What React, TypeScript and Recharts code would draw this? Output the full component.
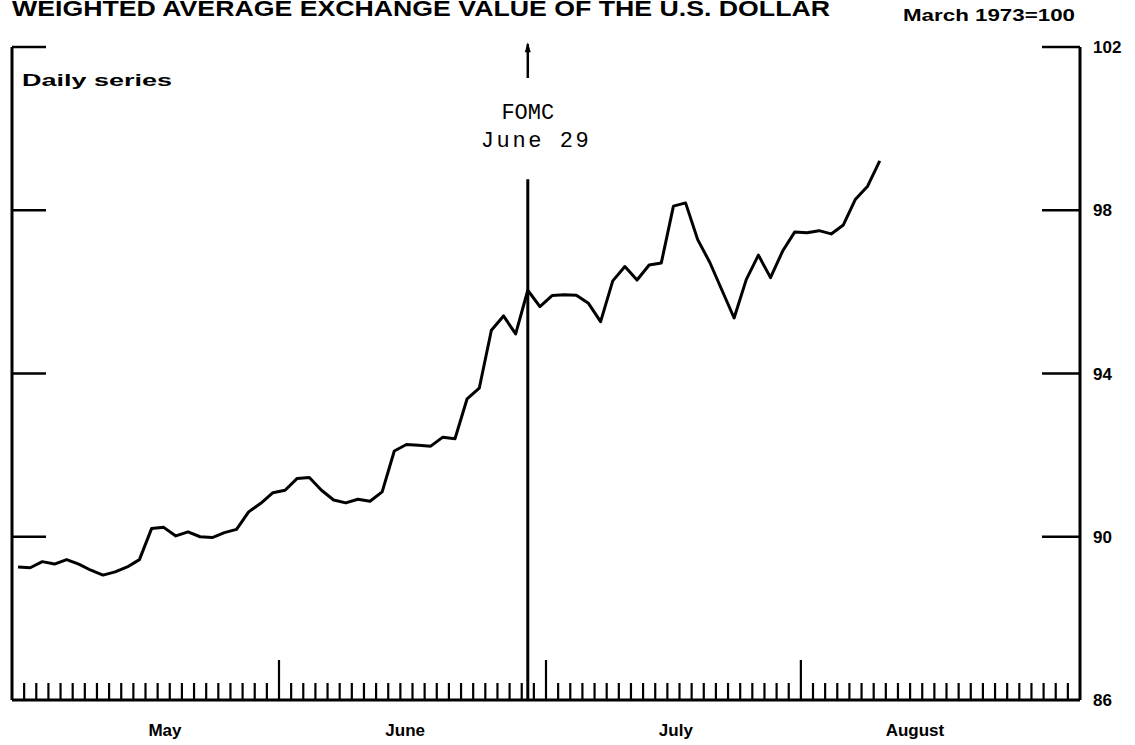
import React from 'react';
import { LineChart, Line, XAxis, YAxis, ReferenceLine } from 'recharts';

// business days, May 2 - Aug 31 1988 (one tick per weekday)
const DAYS = 88;
const MONTHS = ['May', 'June', 'July', 'August'];
const MONTH_START = [0, 22, 44, 65];
const MONTH_LABEL_AT = [12.6, 32.4, 54.7, 74.4];
const Y_TICKS = [86, 90, 94, 98, 102];
const FOMC_DAY = 42;

// daily index, March 1973=100
const VALUES = [
  89.26, 89.24, 89.39, 89.33, 89.44, 89.33, 89.18, 89.06, 89.14, 89.26, 89.44,
  90.2, 90.23, 90.02, 90.12, 90.0, 89.98, 90.1, 90.18, 90.61, 90.82, 91.08,
  91.14, 91.43, 91.45, 91.14, 90.9, 90.83, 90.92, 90.87, 91.1, 92.1, 92.26,
  92.24, 92.22, 92.44, 92.4, 93.38, 93.64, 95.06, 95.41, 94.97, 96.04, 95.64,
  95.91, 95.93, 95.92, 95.72, 95.27, 96.27, 96.62, 96.29, 96.66, 96.71, 98.1,
  98.18, 97.28, 96.72, 96.04, 95.36, 96.3, 96.9, 96.35, 97.0, 97.47, 97.45,
  97.5, 97.42, 97.64, 98.27, 98.59, 99.21,
];

const data = VALUES.map((v, i) => ({ x: i + 0.5, v }));
const xTicks = [...Array.from({ length: DAYS + 1 }, (_, i) => i), ...MONTH_LABEL_AT];

const SANS = '"Liberation Sans", Arial, sans-serif';
const MONO = '"Liberation Mono", "Courier New", monospace';

// where the FOMC line is broken for its label
const GAP_LOW = 98.76;
const GAP_HIGH = 101.24;
const ARROW_TOP = 102.07;

const XTick = (props: any) => {
  const { x, y, payload } = props;
  const li = MONTH_LABEL_AT.indexOf(payload.value);
  if (li >= 0) {
    return (
      <text x={x} y={y + 36} textAnchor="middle" fontFamily={SANS} fontWeight="bold" fontSize={17} fill="#000">
        {MONTHS[li]}
      </text>
    );
  }
  if (payload.value <= 0 || payload.value >= DAYS) return null;
  const tall = MONTH_START.includes(payload.value);
  return <line x1={x} x2={x} y1={y} y2={y - (tall ? 40 : 17)} stroke="#000" strokeWidth={2.2} />;
};

const RightTick = (props: any) => {
  const { x, y, payload } = props;
  return (
    <g>
      {payload.value > 86 && <line x1={x} x2={x - 38} y1={y} y2={y} stroke="#000" strokeWidth={2.5} />}
      <text x={x + 13} y={y} dy={6} textAnchor="start" fontFamily={SANS} fontWeight="bold" fontSize={17} fill="#000">
        {payload.value}
      </text>
    </g>
  );
};

const LeftTick = (props: any) => {
  const { x, y, payload } = props;
  if (payload.value <= 86) return null;
  return <line x1={x} x2={x + 34} y1={y} y2={y} stroke="#000" strokeWidth={2.5} />;
};

const FomcLabel = (props: any) => {
  const vb = props.viewBox || {};
  return (
    <g fontFamily={MONO} fontSize={22} fill="#000">
      <text x={vb.x} y={vb.y - 60} textAnchor="middle">FOMC</text>
      <text x={vb.x + 7} y={vb.y - 32} textAnchor="middle" textLength={108} lengthAdjust="spacing">June 29</text>
    </g>
  );
};

const ArrowHead = (props: any) => {
  const vb = props.viewBox || {};
  return <path d={`M${vb.x - 3},${vb.y + 8} L${vb.x},${vb.y - 2} L${vb.x + 3},${vb.y + 8} Z`} fill="#000" />;
};

export default function App() {
  return (
    <div style={{ position: 'absolute', left: 0, top: 0, width: 1135, height: 745, background: '#fff' }}>
      <LineChart width={1135} height={745} data={data} margin={{ top: 47, right: 0, bottom: 0, left: 0 }}>
        <XAxis
          type="number"
          dataKey="x"
          domain={[0, DAYS]}
          ticks={xTicks}
          interval={0}
          height={45}
          tickSize={0}
          tickMargin={0}
          tick={<XTick />}
          axisLine={{ stroke: '#000', strokeWidth: 3 }}
          allowDataOverflow
        />
        <YAxis
          yAxisId="l"
          orientation="left"
          domain={[86, 102]}
          ticks={Y_TICKS}
          interval={0}
          width={12}
          tickSize={0}
          tickMargin={0}
          tick={<LeftTick />}
          axisLine={{ stroke: '#000', strokeWidth: 3 }}
          allowDataOverflow
        />
        <YAxis
          yAxisId="r"
          orientation="right"
          domain={[86, 102]}
          ticks={Y_TICKS}
          interval={0}
          width={55}
          tickSize={0}
          tickMargin={0}
          tick={<RightTick />}
          axisLine={{ stroke: '#000', strokeWidth: 3 }}
          allowDataOverflow
        />
        <ReferenceLine
          yAxisId="r"
          segment={[{ x: FOMC_DAY + 0.5, y: 86 }, { x: FOMC_DAY + 0.5, y: GAP_LOW }]}
          stroke="#000"
          strokeWidth={3}
          ifOverflow="visible"
          label={<FomcLabel />}
        />
        <ReferenceLine
          yAxisId="r"
          segment={[{ x: FOMC_DAY + 0.5, y: GAP_HIGH }, { x: FOMC_DAY + 0.5, y: ARROW_TOP }]}
          stroke="#000"
          strokeWidth={2.5}
          ifOverflow="visible"
          label={<ArrowHead />}
        />
        <Line
          yAxisId="r"
          type="linear"
          dataKey="v"
          stroke="#000"
          strokeWidth={3}
          strokeLinejoin="round"
          dot={false}
          isAnimationActive={false}
        />
      </LineChart>
      <svg width={1135} height={745} style={{ position: 'absolute', left: 0, top: 0, pointerEvents: 'none' }}>
        <g fontFamily={SANS} fontWeight="bold" fill="#000">
          <text x={12} y={16} fontSize={22} textLength={818} lengthAdjust="spacingAndGlyphs">
            WEIGHTED AVERAGE EXCHANGE VALUE OF THE U.S. DOLLAR
          </text>
          <text x={903} y={21} fontSize={17} textLength={172} lengthAdjust="spacingAndGlyphs">
            March 1973=100
          </text>
          <text x={22} y={86} fontSize={17} textLength={150} lengthAdjust="spacingAndGlyphs">
            Daily series
          </text>
        </g>
      </svg>
    </div>
  );
}
